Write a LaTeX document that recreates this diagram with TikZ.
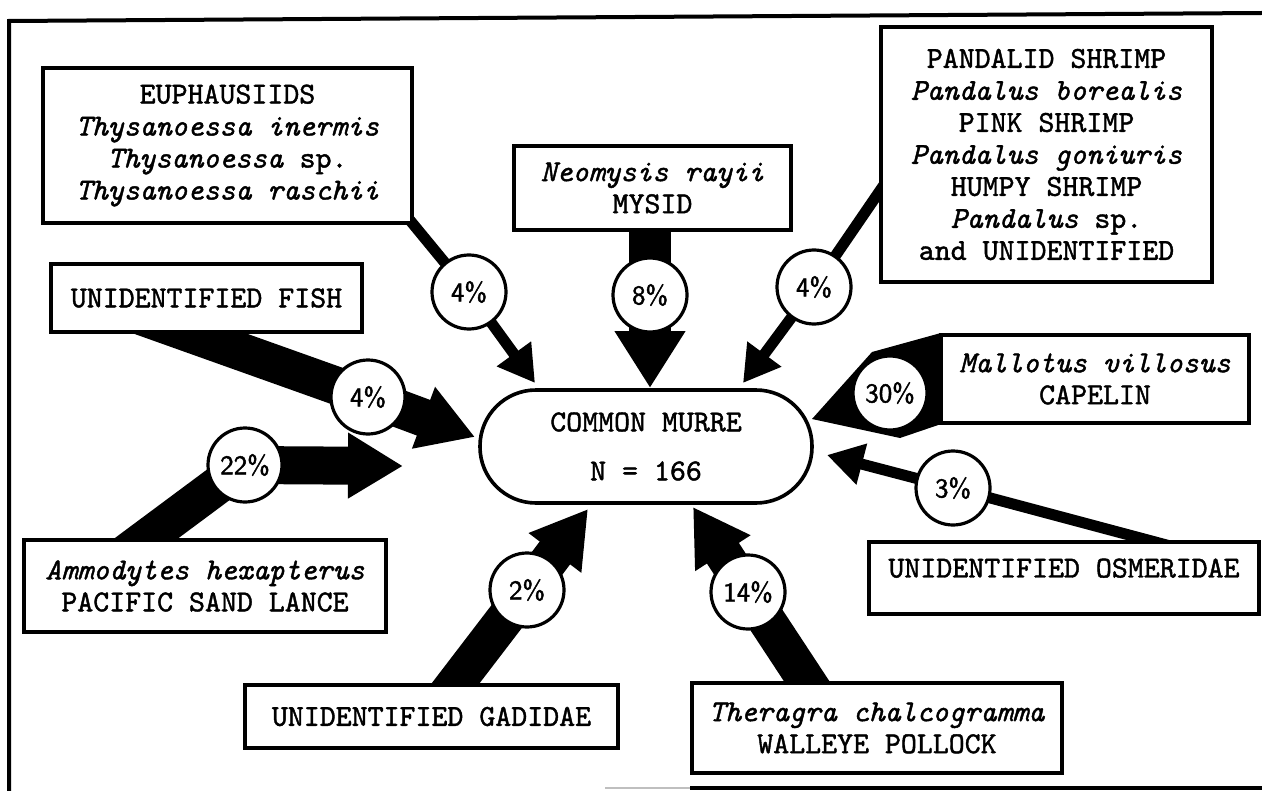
\documentclass[tikz,border=0pt]{standalone}
\usepackage{fontspec}
\setmonofont{lmmono10-regular}[Extension=.otf, ItalicFont=lmmono10-italic, FakeBold=1.4]
\newfontfamily\pctfont{lmsans10-regular}[Extension=.otf, FakeBold=1.6]
\usetikzlibrary{arrows.meta}
\pgfdeclarelayer{bg}
\pgfsetlayers{bg,main}

\tikzset{
  prey/.style={draw, line width=1.6pt, fill=white, inner sep=0pt, align=center,
    font=\ttfamily\fontsize{15.2pt}{16pt}\selectfont},
  pct/.style={circle, draw, line width=1.6pt, fill=white, minimum size=37pt, inner sep=0pt,
    font=\pctfont\fontsize{13.5pt}{13.5pt}\selectfont},
  thin flow/.style={line width=5.5pt, -{Triangle[width=20pt,length=18pt]}},
  wide flow/.style={line width=19pt, -{Triangle[width=31pt,length=27.5pt]}},
}

\begin{document}
\begin{tikzpicture}[x=0.5pt, y=-0.5pt]
  \useasboundingbox (0,0) rectangle (1262,791);

  % 1. 外框
  \draw[line width=2pt] (1262,13) -- (9,21) -- (9,791);
  \draw[gray!50, line width=1.2pt] (605,788) -- (690,788);
  \draw[line width=2pt] (690,788) -- (1262,788);

  % 2. 中心节点
  \node[prey, line width=1.8pt, rounded corners=28pt, minimum width=166pt, minimum height=56.5pt]
    (murre) at (646,446.5) {COMMON MURRE\\[8.5pt]N = 166};

  % 3. 饵料类群
  \node[prey, minimum width=184.5pt, minimum height=77.5pt] (euph) at (227.5,145.5)
    {EUPHAUSIIDS\\\textit{Thysanoessa inermis}\\\textit{Thysanoessa} sp.\\\textit{Thysanoessa raschii}};
  \node[prey, minimum width=138.5pt, minimum height=42pt] (mysid) at (652.5,188)
    {\textit{Neomysis rayii}\\MYSID};
  \node[prey, minimum width=165.5pt, minimum height=127.5pt] (pand) at (1046.5,154.5)
    {PANDALID SHRIMP\\\textit{Pandalus borealis}\\PINK SHRIMP\\\textit{Pandalus goniuris}\\HUMPY SHRIMP\\\textit{Pandalus} sp.\\and UNIDENTIFIED};
  \node[prey, minimum width=155.5pt, minimum height=34pt] (fish) at (206.5,298)
    {UNIDENTIFIED FISH};
  \node[prey, minimum width=154pt, minimum height=44pt] (capelin) at (1095,379)
    {\textit{Mallotus villosus}\\CAPELIN};
  \node[prey, minimum width=181pt, minimum height=46pt] (sand) at (205,586)
    {\textit{Ammodytes hexapterus}\\PACIFIC SAND LANCE};
  \node[prey, minimum width=195pt, minimum height=36pt, text depth=10pt] (osmer) at (1064,578)
    {UNIDENTIFIED OSMERIDAE};
  \node[prey, minimum width=186.5pt, minimum height=31.5pt] (gadid) at (431.5,716.5)
    {UNIDENTIFIED GADIDAE};
  \node[prey, minimum width=185pt, minimum height=45pt] (ther) at (877,728)
    {\textit{Theragra chalcogramma}\\WALLEYE POLLOCK};

  % 4. 百分比
  \node[pct] (pEuph)  at (469,292) {4\%};
  \node[pct] (pMysid) at (650,295) {8\%};
  \node[pct] (pPand)  at (814,287) {4\%};
  \node[pct] (pFish)  at (368,397) {4\%};
  \node[pct] (pCap)   at (890,393) {30\%};
  \node[pct] (pSand)  at (245,465) {22\%};
  \node[pct] (pOsm)   at (953,488) {3\%};
  \node[pct] (pGad)   at (527,590) {2\%};
  \node[pct] (pTher)  at (748,592) {14\%};

  % 箭头尖端
  \coordinate (tEuph)  at (535,383);
  \coordinate (tMysid) at (650,388);
  \coordinate (tPand)  at (743,383);
  \coordinate (tFish)  at (475,437);
  \coordinate (tSand)  at (403,466);
  \coordinate (tCap)   at (812,419);
  \coordinate (tOsm)   at (827,455);
  \coordinate (tGad)   at (588,509);
  \coordinate (tTher)  at (693,507);

  % 5. 箭头 (压在节点下面)
  \begin{pgfonlayer}{bg}
    \draw[thin flow] ([shift={(-10,-12)}]euph.south east) -- (pEuph.center) -- (tEuph);
    \draw[line width=21pt, -{Triangle[width=33.5pt,length=28.5pt]}]
      ([shift={(-2.5,-15)}]mysid.south) -- (pMysid.center) -- (tMysid);
    \draw[thin flow] ([shift={(11,21)}]pand.west) -- (pPand.center) -- (tPand);
    \draw[wide flow] ([shift={(-72.5,-20)}]fish.south) -- (pFish.center) -- (tFish);
    \draw[wide flow] ([shift={(-83,18)}]sand.north) -- (pSand.center) -- (tSand);
    \draw[thin flow] ([shift={(119,9)}]osmer.north) -- (pOsm.center) -- (tOsm);
    \draw[wide flow] ([shift={(11,17)}]gadid.north) -- (pGad.center) -- (tGad);
    \draw[wide flow] ([shift={(-61,14)}]ther.north) -- (pTher.center) -- (tTher);
    \fill (capelin.north west) -- (872,352) -- (tCap) -- (900,438) -- (capelin.south west) -- cycle;
  \end{pgfonlayer}
\end{tikzpicture}
\end{document}
